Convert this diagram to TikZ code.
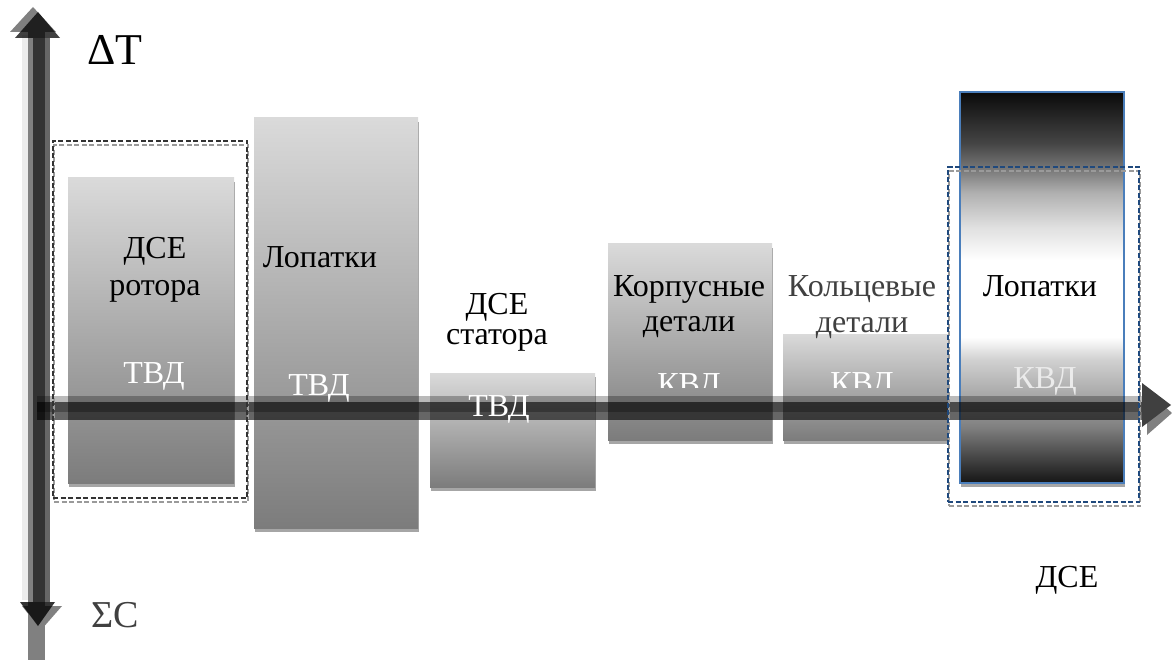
\documentclass[tikz,border=0pt]{standalone}
\usepackage{fontspec}
\setmainfont{Liberation Serif}
\newfontfamily\labelfont{Liberation Serif}
\usetikzlibrary{shadows}

\definecolor{boxtop}{HTML}{DADADA}
\definecolor{boxbot}{HTML}{7C7C7C}
\definecolor{shadowc}{HTML}{A6A6A6}
\definecolor{bluebord}{HTML}{4A7EBB}
\definecolor{dashblue}{HTML}{1F497D}
\definecolor{dashgray}{HTML}{9A9A9A}
\definecolor{textgray}{HTML}{404040}
\definecolor{bA}{HTML}{151515}
\definecolor{bB}{HTML}{404040}
\definecolor{bC}{HTML}{808080}
\definecolor{bD}{HTML}{AAAAAA}
\definecolor{bE}{HTML}{D0D0D0}
\definecolor{bF}{HTML}{E0E0E0}
\definecolor{bG}{HTML}{B0B0B0}
\definecolor{bH}{HTML}{7A7A7A}
\definecolor{bI}{HTML}{444444}
\definecolor{bJ}{HTML}{0A0A0A}

% dark - white - dark vertical gradient of the blade column
\pgfdeclareverticalshading{bladeshade}{100bp}{%
  color(0bp)=(bA); color(25bp)=(bA); color(27.9bp)=(bB); color(32.2bp)=(bC);
  color(36.5bp)=(bD); color(40.7bp)=(bE); color(43.7bp)=(white);
  color(53.5bp)=(white); color(57.7bp)=(bF); color(62.1bp)=(bG);
  color(65bp)=(bH); color(68.5bp)=(bI); color(75bp)=(bJ); color(100bp)=(bJ)}

\begin{document}
\begin{tikzpicture}[x=1pt,y=-1pt,
  part/.style={rectangle, inner sep=0pt, outer sep=0pt, draw=none,
    top color=boxtop, bottom color=boxbot,
    drop shadow={shadow xshift=1pt, shadow yshift=-4pt, opacity=1, fill=shadowc}},
  blade/.style={rectangle, inner sep=0pt, outer sep=0pt, shade, shading=bladeshade,
    draw=bluebord, line width=1.5pt,
    drop shadow={shadow xshift=1pt, shadow yshift=-4pt, opacity=1, fill=shadowc}},
  frameline/.style={rectangle, inner sep=0pt, outer sep=0pt, line width=1.4pt,
    dash pattern=on 5pt off 2.5pt},
  lbl/.style={font=\labelfont\fontsize{32}{37}\selectfont, inner sep=0pt, anchor=base},
  wlbl/.style={lbl, text=white},
]
\useasboundingbox (0,0) rectangle (1172,660);

% ---- vertical axis (cost / temperature) ----
\fill[gray!15] (22,35) rectangle (28,600);
\fill[black!50] (28,32) rectangle (45,660);
\fill[black!50] (10,32) -- (33,7) -- (56,32) -- cycle;
\fill[black!50] (22,606) -- (41,630) -- (62,606) -- cycle;
\fill[black, opacity=.6] (33,38) rectangle (50,602);
\fill[black, opacity=.75] (15,38) -- (38,12) -- (60,38) -- cycle;
\fill[black, opacity=.8] (20,602) -- (38,626) -- (55,602) -- cycle;

% ---- part groups ----
\node[part, minimum width=166, minimum height=305] (b1) at (151,330.5) {};
\node[part, minimum width=164, minimum height=410] (b2) at (336,323) {};
\node[part, minimum width=165, minimum height=114] (b3) at (512.5,430) {};
\node[part, minimum width=164, minimum height=196] (b4) at (690,342) {};
\node[part, minimum width=165, minimum height=106] (b5) at (865.5,387) {};
\node[blade, minimum width=164, minimum height=391] (b6) at (1042,287.5) {};

% ---- horizontal axis ----
\fill[black, opacity=.27] (37,396) rectangle (1142,412);
\fill[black, opacity=.6] (37,402) rectangle (1147,420);
\fill[black!50] (1147,391) -- (1172,413) -- (1147,435) -- cycle;
\fill[black!75] (1142,383) -- (1171,405) -- (1142,427) -- cycle;

% ---- dashed group frames ----
\node[frameline, draw=dashgray, minimum width=194, minimum height=357] (f1s) at (151,323.5) {};
\node[frameline, draw=black!80, minimum width=194, minimum height=357] (f1) at (150,319.5) {};
\node[frameline, draw=dashgray, minimum width=191, minimum height=335] (f2s) at (1044.5,338.5) {};
\node[frameline, draw=dashblue, minimum width=191, minimum height=335] (f2) at (1043.5,334.5) {};

% ---- labels ----
\node[lbl, font=\labelfont\fontsize{44}{50}\selectfont, anchor=base west] (dT) at (87,65) {ΔT};
\node[lbl, font=\labelfont\fontsize{38}{44}\selectfont, anchor=base west, text=textgray] (sC) at (91,627) {ΣC};

\node[lbl] (t1a) at (155,259) {ДСЕ};
\node[lbl] (t1b) at (155,295) {ротора};
\node[wlbl] (w1) at (154,383) {ТВД};

\node[lbl] (t2) at (320,268) {Лопатки};
\node[wlbl] (w2) at (319,395) {ТВД};

\node[lbl] (t3a) at (497,314) {ДСЕ};
\node[lbl] (t3b) at (497,344) {статора};
\node[wlbl] (w3) at (499,416) {ТВД};

\node[lbl] (t4a) at (689,297) {Корпусные};
\node[lbl] (t4b) at (689,331) {детали};

\node[lbl, text=textgray] (t5a) at (862,297) {Кольцевые};
\node[lbl, text=textgray] (t5b) at (862,332) {детали};

\begin{scope}
  \clip (600,300) rectangle (950,387);
  \node[wlbl] (w4) at (689,394) {КВД};
  \node[wlbl] (w5) at (862,393) {КВД};
\end{scope}

\node[lbl] (t6) at (1040,297) {Лопатки};
\node[wlbl, text=white!92!black] (w6) at (1045,388) {КВД};

\node[lbl] (t7) at (1067,587) {ДСЕ};
\end{tikzpicture}
\end{document}
